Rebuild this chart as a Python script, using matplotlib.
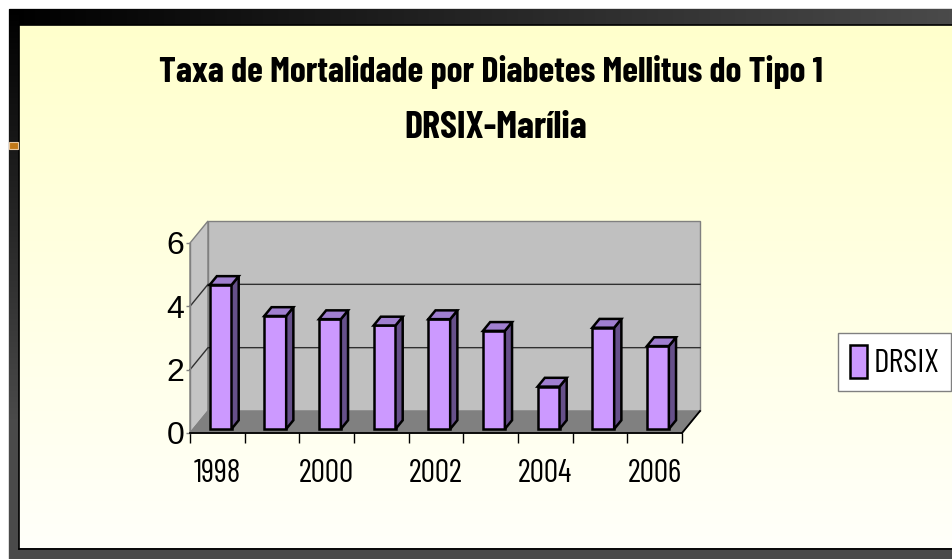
import numpy as np
import matplotlib
matplotlib.use('Agg')
import matplotlib.pyplot as plt
from matplotlib.patches import Polygon, Patch, Rectangle
from matplotlib.colors import to_rgb

# data
anos = ['1998', '1999', '2000', '2001', '2002', '2003', '2004', '2005', '2006']
taxa = [4.55, 3.57, 3.47, 3.27, 3.47, 3.10, 1.34, 3.20, 2.62]
yticks = [0, 2, 4, 6]
titulo1 = 'Taxa de Mortalidade por Diabetes Mellitus do Tipo 1'
titulo2 = 'DRSIX-Marília'
serie = 'DRSIX'

narrow = ['Barlow Condensed', 'DejaVu Sans']
normal = ['Liberation Sans', 'DejaVu Sans']

W, H = 953, 559
fig = plt.figure(figsize=(W / 100, H / 100), dpi=100)
fig.patch.set_facecolor('white')
renderer = fig.canvas.get_renderer()


def fit(t, width_px):
    # scale a text so it spans the width seen in the picture
    w = t.get_window_extent(renderer).width
    t.set_fontsize(t.get_fontsize() * width_px / w)
    return t.get_fontsize()


# slide frame / background (pixel coords)
bg = fig.add_axes([0, 0, 1, 1])
bg.set_xlim(0, W)
bg.set_ylim(H, 0)
bg.axis('off')
bg.add_patch(Rectangle((9, 9), W - 9, H - 9, color='#4a4a4a', zorder=0))


def grad(c0, c1, n, horiz):
    a, b = np.array(to_rgb(c0)), np.array(to_rgb(c1))
    t = np.linspace(0, 1, n)[:, None]
    g = a + (b - a) * t
    return g[None, :, :] if horiz else g[:, None, :]


bg.imshow(grad('#000000', '#4a4a4a', 256, True), extent=(9, W, 25, 9), aspect='auto', zorder=1)
bg.imshow(grad('#000000', '#4a4a4a', 256, False), extent=(9, 19, 420, 9), aspect='auto', zorder=1)
bg.imshow(grad('#ffffcc', '#fffffa', 256, False), extent=(19, W, 548, 25), aspect='auto', zorder=2)
bg.plot([19, W], [24.5, 24.5], color='black', lw=1.2, zorder=3)
bg.plot([19, 19], [25, 548.5], color='black', lw=1.2, zorder=3)
bg.plot([19, W], [548.5, 548.5], color='black', lw=1.2, zorder=3)
bg.add_patch(Rectangle((9, 142), 9, 7, fc='#c07818', ec='#e8c8a0', lw=0.8, zorder=3))

t1 = fig.text(491 / W, 1 - 82 / H, titulo1, ha='center', va='baseline', fontsize=24,
              fontweight='bold', family=narrow)
fit(t1, 662)
t2 = fig.text(496 / W, 1 - 138 / H, titulo2, ha='center', va='baseline', fontsize=24,
              fontweight='bold', family=narrow)
fit(t2, 183)

# front plane of the 3D chart
ax = fig.add_axes([190 / W, 1 - 433 / H, 492 / W, 190 / H])
n = len(anos)
ax.set_xlim(0, n)
ax.set_ylim(0, 6)
ax.patch.set_visible(False)
for s in ['top', 'right']:
    ax.spines[s].set_visible(False)
ax.spines['bottom'].set_color('black')
ax.spines['bottom'].set_linewidth(1.3)
ax.spines['left'].set_color('#808080')
ax.spines['left'].set_linewidth(1)

DX = 18 / 492 * n
DY = 22 / 190 * 6

ax.add_patch(Polygon([(0, 0), (0, 6), (DX, 6 + DY), (DX, DY)], fc='#c4c4c4', ec='#808080',
                     lw=1, clip_on=False, zorder=0))
ax.add_patch(Polygon([(DX, DY), (DX, 6 + DY), (n + DX, 6 + DY), (n + DX, DY)], fc='#c0c0c0',
                     ec='#808080', lw=1, clip_on=False, zorder=0))
ax.add_patch(Polygon([(0, 0), (n, 0), (n + DX, DY), (DX, DY)], fc='#808080', ec='#808080',
                     lw=1, clip_on=False, zorder=1))
for v in yticks[1:-1]:
    ax.plot([0, DX, n + DX], [v, v + DY, v + DY], color='#303030', lw=1, clip_on=False, zorder=1)
ax.plot([n, n + DX], [0, DY], color='black', lw=1.3, clip_on=False, zorder=2)

# bars
x = np.arange(n) + 0.5
bw = 0.4
f0, f1 = 0.18, 0.58
ax.bar(x + f0 * DX, taxa, width=bw, bottom=f0 * DY, color='#cc99ff', edgecolor='black',
       linewidth=1.8, clip_on=False, zorder=3)
d, e = (f1 - f0) * DX, (f1 - f0) * DY
for xi, v in zip(x, taxa):
    xl = xi - bw / 2 + f0 * DX
    xr = xl + bw
    yb = f0 * DY
    yt = yb + v
    ax.add_patch(Polygon([(xr, yb), (xr + d, yb + e), (xr + d, yt + e), (xr, yt)], fc='#66508a',
                         ec='black', lw=1.8, joinstyle='miter', clip_on=False, zorder=3))
    ax.add_patch(Polygon([(xl, yt), (xl + d, yt + e), (xr + d, yt + e), (xr, yt)], fc='#a07fd0',
                         ec='black', lw=1.8, joinstyle='miter', clip_on=False, zorder=3))

ax.set_xticks(np.arange(n + 1))
ax.set_xticklabels([])
ax.set_xticks(x[::2], minor=True)
ax.set_xticklabels(anos[::2], minor=True, fontsize=23, family=narrow)
labs = ax.get_xticklabels(minor=True)
size = fit(labs[1], 55)
for lab in labs:
    lab.set_fontsize(size)
ax.tick_params(axis='x', which='major', direction='out', length=7.5, width=1, color='black')
ax.tick_params(axis='x', which='minor', length=0, pad=18.5)
ax.set_yticks(yticks)
ax.set_yticklabels([str(t) for t in yticks], fontsize=23, family=normal)
ax.tick_params(axis='y', direction='out', length=3, width=1, color='#808080', pad=1)

leg = ax.legend(handles=[Patch(facecolor='#cc99ff', edgecolor='black', linewidth=1.8)],
                labels=[serie], loc='center right', bbox_to_anchor=(951 / W, 1 - 362 / H),
                bbox_transform=fig.transFigure, fancybox=False, framealpha=1,
                facecolor='white', edgecolor='#808080', handlelength=0.5, handleheight=1.15,
                handletextpad=0.2, borderpad=0.35, borderaxespad=0,
                prop={'family': narrow, 'size': 24})
leg.get_frame().set_linewidth(1)
fit(leg.get_texts()[0], 66)

fig.savefig('out.png', dpi=100)
